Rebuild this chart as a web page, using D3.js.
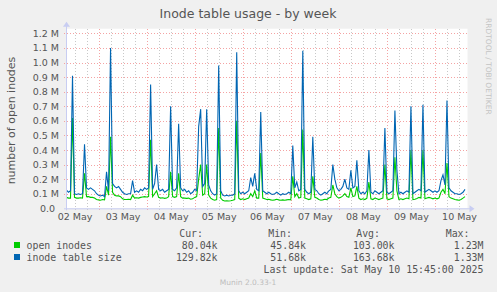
<!DOCTYPE html>
<html>
<head>
<meta charset="utf-8">
<script src="https://cdn.jsdelivr.net/npm/d3@7/dist/d3.min.js"></script>
<style>
	body { margin: 0; background: #f0f0f0; }
	svg { display: block; }
</style>
</head>
<body>
<div class="chart"></div>
<script>
// Hourly samples, starting 02 May 08:00 (values in thousands).
var startTime = new Date(2025, 4, 2, 8, 0);
var inodeTableSize = [
	125, 110, 120, 910, 100, 95, 100, 95, 100, 440,
	140, 130, 140, 130, 120, 100, 90, 85, 90, 80,
	250, 120, 1100, 170, 150, 140, 150, 130, 110, 100,
	95, 100, 100, 190, 110, 120, 110, 130, 120, 140,
	130, 140, 850, 130, 170, 300, 130, 120, 130, 110,
	120, 130, 700, 130, 120, 140, 580, 140, 120, 130,
	110, 120, 100, 110, 130, 120, 560, 680, 150, 170,
	680, 160, 120, 100, 90, 100, 980, 120, 90, 85,
	90, 85, 90, 90, 100, 1070, 120, 100, 110, 100,
	110, 120, 210, 150, 240, 130, 120, 660, 120, 110,
	100, 110, 100, 95, 100, 110, 100, 90, 100, 95,
	100, 110, 100, 430, 140, 180, 120, 130, 1080, 130,
	110, 100, 110, 490, 130, 120, 100, 90, 100, 110,
	100, 120, 130, 300, 200, 140, 120, 130, 150, 200,
	140, 130, 260, 140, 150, 330, 120, 100, 110, 100,
	120, 400, 110, 100, 120, 110, 100, 110, 120, 550,
	110, 100, 110, 120, 670, 260, 100, 110, 100, 110,
	120, 110, 700, 100, 110, 120, 130, 120, 710, 110,
	120, 130, 120, 110, 120, 110, 120, 190, 230, 160,
	740, 140, 120, 110, 100, 100, 95, 100, 110, 130
];
var openInodes = [
	75, 70, 70, 620, 75, 70, 70, 72, 70, 240,
	80, 80, 75, 75, 70, 60, 58, 55, 60, 58,
	150, 90, 490, 110, 90, 85, 85, 80, 65, 60,
	60, 62, 60, 90, 70, 72, 70, 75, 78, 80,
	78, 80, 470, 80, 100, 120, 75, 70, 72, 68,
	70, 80, 250, 80, 75, 80, 240, 80, 70, 70,
	68, 70, 62, 65, 75, 80, 200, 300, 90, 100,
	300, 90, 70, 60, 55, 60, 550, 70, 55, 50,
	52, 50, 52, 55, 60, 600, 70, 60, 65, 60,
	65, 70, 100, 80, 120, 70, 70, 380, 70, 65,
	60, 62, 58, 55, 58, 62, 58, 55, 58, 55,
	58, 60, 58, 220, 80, 100, 70, 75, 540, 70,
	65, 60, 65, 220, 75, 70, 60, 55, 58, 62,
	60, 70, 75, 160, 100, 80, 70, 75, 85, 100,
	80, 75, 140, 80, 85, 150, 70, 60, 65, 60,
	70, 180, 65, 60, 70, 65, 60, 65, 70, 300,
	65, 60, 65, 70, 350, 120, 60, 65, 60, 65,
	70, 65, 400, 60, 62, 68, 75, 70, 400, 65,
	70, 75, 70, 65, 70, 65, 70, 110, 130, 100,
	310, 80, 70, 65, 60, 58, 55, 60, 70, 80
];
var dayLabels = ['02 May', '03 May', '04 May', '05 May', '06 May', '07 May', '08 May', '09 May', '10 May'];
var yTickValues = [0, 0.1, 0.2, 0.3, 0.4, 0.5, 0.6, 0.7, 0.8, 0.9, 1.0, 1.1, 1.2];
var legendNames = ['open inodes', 'inode table size'];
var legendColors = ['#00cc00', '#0066b3'];
var curValues = ['80.04k', '129.82k'];
var minValues = ['45.84k', '51.68k'];
var avgValues = ['103.00k', '163.68k'];
var maxValues = ['1.23M', '1.33M'];

var textColor = '#555',
	minorGrid = '#c8c8c8',
	majorGrid = '#f4a3a3',
	axisColor = '#c8cdf2';
var W = 497, H = 292;
var plotLeft = 66, plotRight = 466.5, plotTop = 28.7, plotBottom = 208.3;

var x = d3.scaleTime()
	.domain([new Date(2025, 4, 2, 7, 45), new Date(2025, 4, 10, 15, 45)])
	.range([plotLeft, plotRight]);
var y = d3.scaleLinear().domain([0, 1.232]).range([plotBottom, plotTop]);

var svg = d3.select('.chart').append('svg')
	.attr('width', W)
	.attr('height', H)
	.attr('font-family', 'DejaVu Sans, sans-serif');

svg.append('rect').attr('width', W).attr('height', H).attr('fill', '#f0f0f0');
svg.append('rect')
	.attr('x', plotLeft).attr('y', plotTop)
	.attr('width', plotRight - plotLeft + 1).attr('height', plotBottom - plotTop)
	.attr('fill', '#fff');

// Title and side texts
svg.append('text')
	.attr('x', 248).attr('y', 18)
	.attr('text-anchor', 'middle')
	.attr('font-size', '12.5px')
	.attr('fill', textColor)
	.text('Inode table usage - by week');
svg.append('text')
	.attr('transform', 'translate(15,' + ((plotTop + plotBottom) / 2 + 2) + ') rotate(-90)')
	.attr('text-anchor', 'middle')
	.attr('font-size', '11px')
	.attr('fill', textColor)
	.text('number of open inodes');
svg.append('text')
	.attr('transform', 'translate(486,18) rotate(90)')
	.attr('font-size', '7.5px')
	.attr('fill', '#c4c4c4')
	.text('RRDTOOL / TOBI OETIKER');

// Grid: minor every 6 hours, major at midnight, horizontal every 0.1 M
var grid = svg.append('g')
	.attr('stroke-width', 1)
	.attr('stroke-dasharray', '1,2')
	.attr('shape-rendering', 'crispEdges');
x.ticks(d3.timeHour.every(6)).forEach(function(d) {
	var midnight = d.getHours() === 0;
	grid.append('line')
		.attr('x1', Math.round(x(d)) + 0.5).attr('x2', Math.round(x(d)) + 0.5)
		.attr('y1', plotTop).attr('y2', plotBottom + 2)
		.attr('stroke', midnight ? majorGrid : minorGrid);
});
yTickValues.forEach(function(v) {
	if (v === 0) return;
	grid.append('line')
		.attr('x1', plotLeft - 2).attr('x2', plotRight + 1)
		.attr('y1', Math.round(y(v)) + 0.5).attr('y2', Math.round(y(v)) + 0.5)
		.attr('stroke', majorGrid);
});

// Data lines
var line = d3.line()
	.x(function(d, i) { return x(d3.timeHour.offset(startTime, i)); })
	.y(function(d) { return y(d / 1000); });
svg.append('path')
	.datum(openInodes)
	.attr('d', line)
	.attr('fill', 'none')
	.attr('stroke', legendColors[0])
	.attr('stroke-width', 1.1);
svg.append('path')
	.datum(inodeTableSize)
	.attr('d', line)
	.attr('fill', 'none')
	.attr('stroke', legendColors[1])
	.attr('stroke-width', 1.1);

// Axes lines with arrows
svg.append('line')
	.attr('x1', plotLeft - 2).attr('x2', plotRight + 4)
	.attr('y1', plotBottom + 0.5).attr('y2', plotBottom + 0.5)
	.attr('stroke', axisColor);
svg.append('line')
	.attr('x1', plotLeft + 0.5).attr('x2', plotLeft + 0.5)
	.attr('y1', plotBottom + 2).attr('y2', plotTop - 3)
	.attr('stroke', axisColor);
svg.append('path')
	.attr('d', 'M' + (plotRight + 8) + ',' + (plotBottom + 0.5) + 'l-5,-3.5v7z')
	.attr('fill', axisColor);
svg.append('path')
	.attr('d', 'M' + (plotLeft + 0.5) + ',' + (plotTop - 7) + 'l-3.5,5h7z')
	.attr('fill', axisColor);

// Tick labels via axes
var yAxis = svg.append('g')
	.attr('transform', 'translate(' + (plotLeft - 7) + ',0)')
	.call(d3.axisLeft(y)
		.tickValues(yTickValues)
		.tickSize(0)
		.tickPadding(0)
		.tickFormat(function(d) { return d === 0 ? '0.0' : d.toFixed(1) + ' M'; }));
yAxis.select('.domain').remove();
yAxis.selectAll('text')
	.attr('font-family', 'DejaVu Sans, sans-serif')
	.attr('font-size', '9.5px')
	.attr('fill', textColor)
	.attr('dx', function(d) { return d === 0 ? -4 : 0; });

var noons = dayLabels.map(function(s, i) { return new Date(2025, 4, 2 + i, 12); });
var xAxis = svg.append('g')
	.attr('transform', 'translate(0,' + (plotBottom + 3) + ')')
	.call(d3.axisBottom(x)
		.tickValues(noons)
		.tickSize(0)
		.tickPadding(2)
		.tickFormat(function(d, i) { return dayLabels[i]; }));
xAxis.select('.domain').remove();
xAxis.selectAll('text')
	.attr('font-family', 'DejaVu Sans, sans-serif')
	.attr('font-size', '9.5px')
	.attr('fill', textColor);

// Legend
var legend = svg.append('g')
	.attr('font-family', 'DejaVu Sans Mono, monospace')
	.attr('font-size', '9.9px')
	.attr('fill', textColor);
var cols = [
	{ head: 'Cur:', hx: 203, vx: 217.5, vals: curValues },
	{ head: 'Min:', hx: 292, vx: 306, vals: minValues },
	{ head: 'Avg:', hx: 380, vx: 394.5, vals: avgValues },
	{ head: 'Max:', hx: 469.5, vx: 483.5, vals: maxValues }
];
cols.forEach(function(c) {
	legend.append('text')
		.attr('x', c.hx).attr('y', 237)
		.attr('text-anchor', 'end')
		.text(c.head);
	c.vals.forEach(function(v, i) {
		legend.append('text')
			.attr('x', c.vx).attr('y', 249 + i * 12)
			.attr('text-anchor', 'end')
			.text(v);
	});
});
legendNames.forEach(function(name, i) {
	legend.append('rect')
		.attr('x', 14).attr('y', 242 + i * 12)
		.attr('width', 6).attr('height', 6)
		.attr('fill', legendColors[i]);
	legend.append('text')
		.attr('x', 26.5).attr('y', 249 + i * 12)
		.text(name);
});
legend.append('text')
	.attr('x', 483.5).attr('y', 273)
	.attr('text-anchor', 'end')
	.text('Last update: Sat May 10 15:45:00 2025');
svg.append('text')
	.attr('x', 248).attr('y', 284.5)
	.attr('text-anchor', 'middle')
	.attr('font-size', '7.5px')
	.attr('fill', '#bdbdbd')
	.text('Munin 2.0.33-1');
</script>
</body>
</html>
